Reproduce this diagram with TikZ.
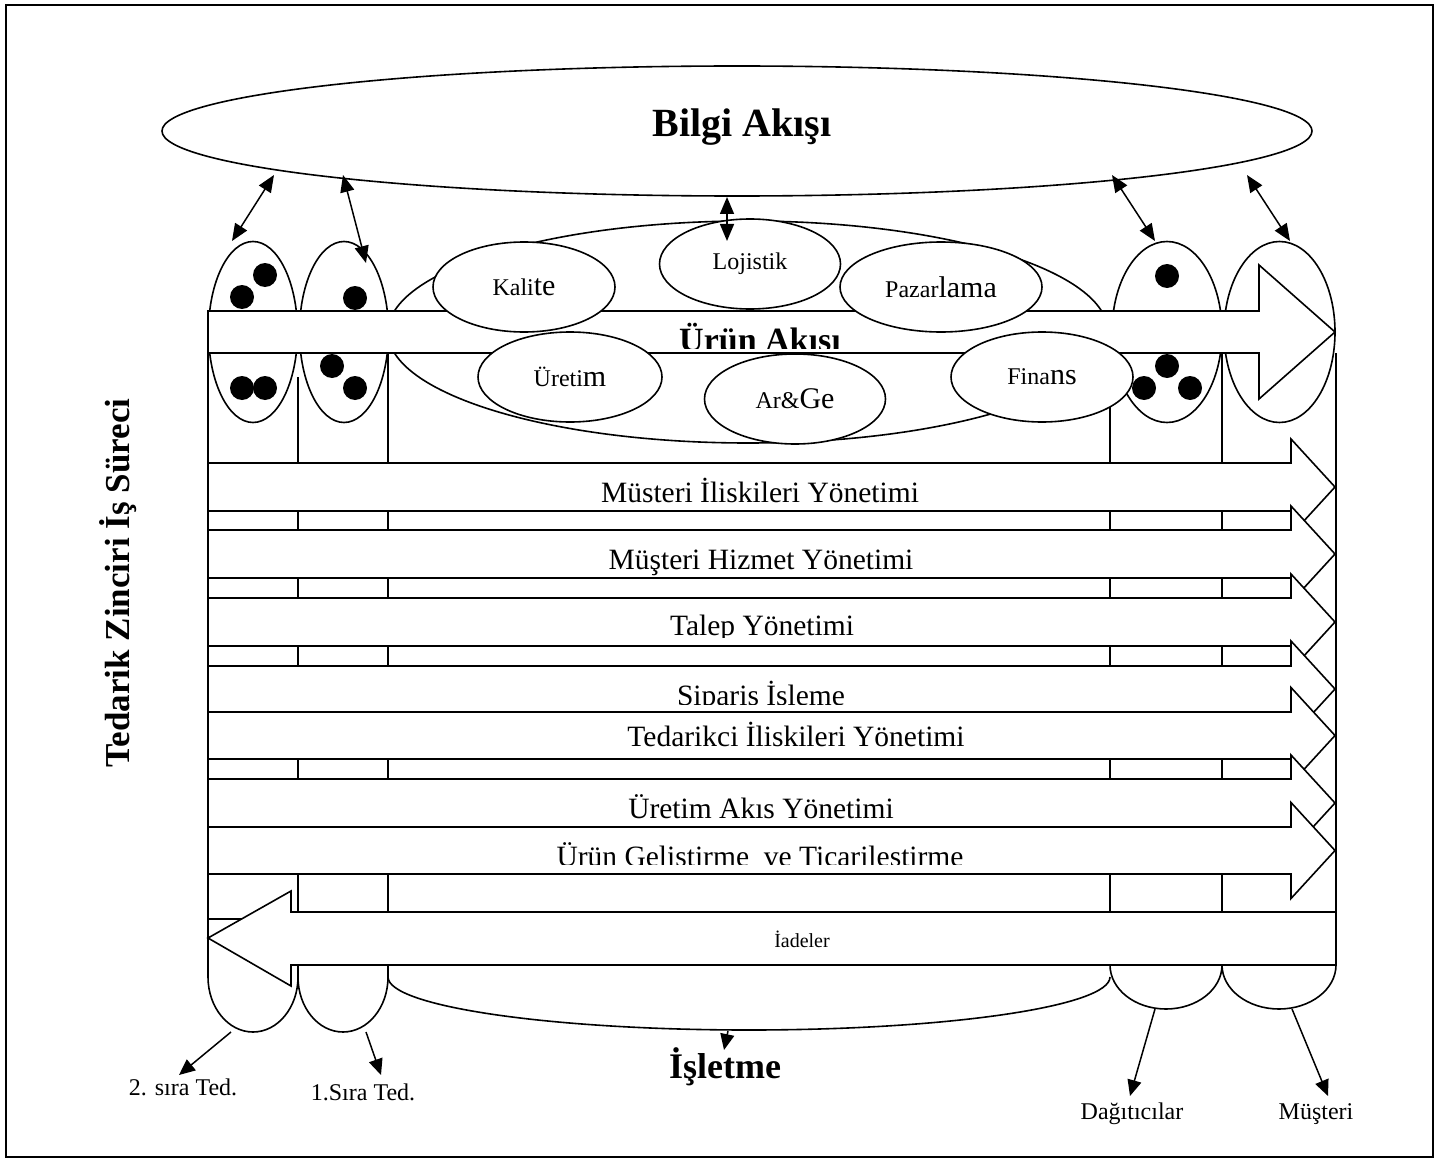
\documentclass[tikz,border=0pt]{standalone}
\usepackage{fontspec}
\setmainfont{Liberation Serif}
\usetikzlibrary{shapes.geometric,arrows.meta}
\newcommand\fsz[1]{\fontsize{#1}{#1}\selectfont}

\begin{document}
\begin{tikzpicture}[x=1pt,y=-1pt,
  thickline/.style={line width=1.6pt},
  band/.style={draw, fill=white, line width=1.6pt, line join=miter},
  dept/.style={ellipse, draw, fill=white, line width=1.6pt, inner sep=0pt,
               minimum width=182pt, minimum height=90pt, font=\fsz{24}},
  member/.style={ellipse, draw, fill=white, line width=1.6pt, inner sep=0pt,
                 minimum height=181pt},
  blob/.style={circle, fill=black, inner sep=0pt, minimum size=24pt},
  exchange/.style={line width=1.5pt,
    {Triangle[length=17pt,width=14pt]}-{Triangle[length=17pt,width=14pt]}},
  pointer/.style={line width=1.5pt, -{Triangle[length=16pt,width=14pt]}},
  rowtext/.style={font=\fsz{29.5}, anchor=base, inner sep=0pt},
  tag/.style={font=\fsz{24}, anchor=base, inner sep=0pt}
]
\useasboundingbox (0,0) rectangle (1440,1169);
\draw[line width=1.5pt] (6,5) rectangle (1433,1157);

% information flow
\node[ellipse, draw, line width=1.6pt, inner sep=0pt,
      minimum width=1150pt, minimum height=130pt] (bilgi) at (737,131) {};
\node[font=\bfseries\fsz{40}] (bilgitxt) at (742,127) {Bilgi Akışı};

% column boundaries
\draw[thickline] (208,311) -- (208,977);
\draw[thickline] (298,377) -- (298,977);
\draw[thickline] (388,353) -- (388,977);
\draw[thickline] (1110,353) -- (1110,965);
\draw[thickline] (1222,353) -- (1222,965);
\draw[thickline] (1336,353) -- (1336,965);
\draw[thickline] (208,919) -- (298,919);

% rounded column ends at the bottom
\draw[thickline] (208,977) arc[start angle=180, end angle=0, x radius=45, y radius=55];
\draw[thickline] (298,977) arc[start angle=180, end angle=0, x radius=45, y radius=55];
\draw[thickline] (388,977) arc[start angle=180, end angle=0, x radius=361, y radius=53];
\draw[thickline] (1110,965) arc[start angle=180, end angle=0, x radius=56, y radius=44];
\draw[thickline] (1222,965) arc[start angle=180, end angle=0, x radius=57, y radius=44];

% supply chain members
\node[member, minimum width=89pt] (sup2) at (253,332) {};
\node[member, minimum width=89pt] (sup1) at (344,332) {};
\node[member, minimum width=110pt] (dist) at (1167,332) {};
\node[member, minimum width=111pt] (cust) at (1279.5,332) {};

\node[blob] (d1) at (265,275) {};
\node[blob] (d2) at (242,297) {};
\node[blob] (d3) at (242,388) {};
\node[blob] (d4) at (265,388) {};
\node[blob] (d5) at (355,298) {};
\node[blob] (d6) at (332,366) {};
\node[blob] (d7) at (355,388) {};
\node[blob] (d8) at (1167,276) {};
\node[blob] (d9) at (1167,366) {};
\node[blob] (d10) at (1144,388) {};
\node[blob] (d11) at (1190,388) {};

% the firm
\node[ellipse, draw, fill=white, line width=1.6pt, inner sep=0pt,
      minimum width=720pt, minimum height=222pt] (firm) at (748,332) {};

% product flow
\draw[band] (208,311) -- (1259,311) -- (1259,265) -- (1335,332)
  -- (1259,399) -- (1259,353) -- (208,353) -- cycle;
\begin{scope}
  \clip (208,311) rectangle (1259,348);
  \node[font=\bfseries\fsz{34}, anchor=base, inner sep=0pt] (urun) at (760,351) {Ürün Akışı};
\end{scope}

% functions of the firm
\node[dept] (kalite) at (524,287) {Kali{\fsz{30}te}};
\node[dept, minimum width=181pt] (lojistik) at (750,264) {Lojistik};
\node[dept, minimum width=202pt] (pazarlama) at (941,287) {Pazar{\fsz{30}lama}};
\node[dept, minimum width=184pt] (uretim) at (570,377) {Üreti{\fsz{30}m}};
\node[dept, minimum width=181pt] (arge) at (795,399) {Ar\&{\fsz{30}Ge}};
\node[dept] (finans) at (1042,377) {Fina{\fsz{30}ns}};

% business processes
\foreach \t/\b in {463/511, 530/578, 598/646, 666/712, 712/759, 779/827, 827/874} {
  \draw[band] (208,\t) -- (1291,\t) -- (1291,{(\t+\b)/2-48}) -- (1335,{(\t+\b)/2})
    -- (1291,{(\t+\b)/2+48}) -- (1291,\b) -- (208,\b) -- cycle;
}
\node[rowtext] (r1) at (760,502) {Müsteri İliskileri Yönetimi};
\node[rowtext] (r2) at (761,569) {Müşteri Hizmet Yönetimi};
\begin{scope}
  \clip (208,598) rectangle (1291,637);
  \node[rowtext] (r3) at (762,635) {Talep Yönetimi};
\end{scope}
\begin{scope}
  \clip (208,666) rectangle (1291,704);
  \node[rowtext] (r4) at (761,705) {Siparis İsleme};
\end{scope}
\node[rowtext] (r5) at (796,746) {Tedarikci İliskileri Yönetimi};
\node[rowtext] (r6) at (761,818) {Üretim Akıs Yönetimi};
\begin{scope}
  \clip (208,827) rectangle (1291,864);
  \node[rowtext] (r7) at (760,866) {Ürün Gelistirme\ \ ve Ticarilestirme};
\end{scope}

% returns
\draw[band] (1336,912) -- (291,912) -- (291,891) -- (208,938)
  -- (291,986) -- (291,965) -- (1336,965) -- cycle;
\node[font=\fsz{20}, anchor=base, inner sep=0pt] (iadeler) at (802,947) {İadeler};

% links to the information flow
\coordinate (e1a) at (232,241);  \coordinate (e1b) at (274,175);
\coordinate (e2a) at (366,263);  \coordinate (e2b) at (343,175);
\coordinate (e3a) at (727,241);  \coordinate (e3b) at (727,197);
\coordinate (e4a) at (1155,241); \coordinate (e4b) at (1112,175);
\coordinate (e5a) at (1290,241); \coordinate (e5b) at (1247,175);
\draw[exchange] (e1a) -- (e1b);
\draw[exchange] (e2a) -- (e2b);
\draw[exchange] (e3a) -- (e3b);
\draw[exchange] (e4a) -- (e4b);
\draw[exchange] (e5a) -- (e5b);

% member labels
\node[tag] (lsup2) at (183,1095) {2. sıra Ted.};
\node[tag] (lsup1) at (363,1100) {1.Sıra Ted.};
\node[font=\bfseries\fsz{36}, anchor=base, inner sep=0pt] (lfirm) at (725,1078) {İşletme};
\node[tag] (ldist) at (1132,1119) {Dağıtıcılar};
\node[tag] (lcust) at (1316,1119) {Müşteri};

\coordinate (p1a) at (231,1032);  \coordinate (p1b) at (179,1075);
\coordinate (p2a) at (366,1032);  \coordinate (p2b) at (381,1075);
\coordinate (p3a) at (728,1031);  \coordinate (p3b) at (724,1050);
\coordinate (p4a) at (1155,1009); \coordinate (p4b) at (1130,1096);
\coordinate (p5a) at (1292,1009); \coordinate (p5b) at (1328,1096);
\draw[pointer] (p1a) -- (p1b);
\draw[pointer] (p2a) -- (p2b);
\draw[pointer] (p3a) -- (p3b);
\draw[pointer] (p4a) -- (p4b);
\draw[pointer] (p5a) -- (p5b);

% process axis title
\node[font=\bfseries\fsz{35}, rotate=90, anchor=base, inner sep=0pt] (axis) at (129,583)
  {Tedarik Zinciri İş Süreci};
\end{tikzpicture}
\end{document}
